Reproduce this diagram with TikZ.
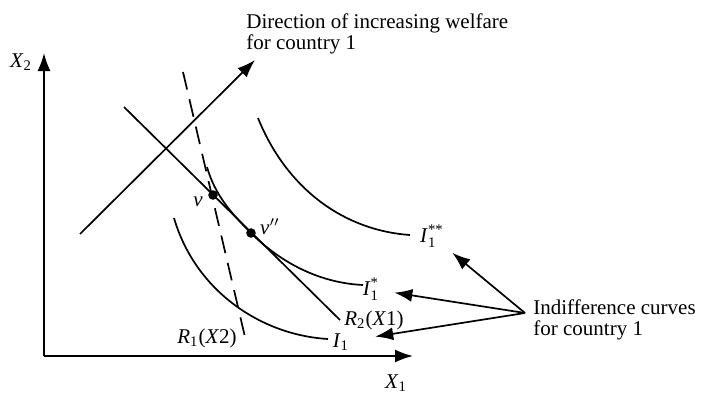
\documentclass[tikz,border=0pt]{standalone}
\usepackage{amsmath}
\usepackage{fontspec}
\setmainfont{Liberation Serif}
\usetikzlibrary{arrows.meta}

\begin{document}
\begin{tikzpicture}[
			x=0.5pt, y=0.5pt,
			curve/.style={line width=0.85pt},
			lbl/.style={
				inner sep=1pt,
				font=\fontsize{10.5}{10.8}\selectfont
			},
			dot/.style={circle, fill=black, inner sep=0pt, minimum size=4.8pt},
			>={Latex[length=9pt,width=6.5pt]}
			]
			\useasboundingbox (0,0) rectangle (701,392);
			
			% axes
			\coordinate (O) at (44,36);
			\coordinate (ytip) at (44,339);
			\coordinate (xtip) at (413,36);
			\draw[curve, ->] (O) -- (ytip);
			\draw[curve, ->] (O) -- (xtip);
			\node[lbl] (X2) at (21,330) {\textit{X}$_{\text{2}}$};
			\node[lbl] (X1) at (396,9) {\textit{X}$_{\text{1}}$};
			
			% direction of welfare
			\coordinate (dirS) at (80,158);
			\coordinate (dirE) at (255,332);
			\draw[curve, ->] (dirS) -- (dirE);
			\node[lbl, anchor=west, align=left] (dir) at (244,358) 
			{Direction of increasing welfare\\for country 1};
			
			% reaction lines
			\coordinate (R2top) at (124,285);
			\coordinate (R2end) at (340,72);
			\coordinate (R1top) at (183,320);
			\coordinate (R1end) at (245,55);
			\draw[curve] (R2top) -- (R2end);
			\draw[curve, dash pattern=on 9pt off 5pt] (R1top) -- (R1end);
			\node[lbl] (R2) at (374,72) {\textit{R}$_{\text{2}}$(\textit{X}1)};
			\node[lbl] (R1) at (207,54) {\textit{R}$_{\text{1}}$(\textit{X}2)};
			
			% indifference curves
			\draw[curve] (174,174) .. controls (195,102) and (260,57) .. (328,53);
			\draw[curve] (207,225) .. controls (215,197) and (231,179) .. (251,159)
				.. controls (281,129) and (320,109) .. (363,107);
			\draw[curve] (258,274) .. controls (285,207) and (340,162) .. (410,157);
			\node[lbl] (I1) at (341,50) {\textit{I}$_{\text{1}}$};
			\node[lbl] (I1s) at (371,103) {\textit{I}$_{\text{1}}^{\text{*}}$};
			\node[lbl] (I1ss) at (432,156) {\textit{I}$_{\text{1}}^{\text{**}}$};
			
			% equilibrium points
			\node[dot] (v) at (213,197) {};
			\node[dot] (vpp) at (251,159) {};
			\node[lbl] (vlbl) at (198,190) {\textit{v}};
			\node[lbl] (vpplbl) at (270,165) {\textit{v}$''$};
			
			% pointer to the curves
			\coordinate (src) at (525,79);
			\node[lbl, anchor=west, align=left] (ic) at (531,72) 
			{Indifference curves\\for country 1};
			\draw[curve, ->, shorten >=4pt] (src) -- (I1ss);
			\draw[curve, ->, shorten >=6.5pt] (src) -- (I1s);
			\draw[curve, ->, shorten >=12pt] (src) -- (I1);
			
		\end{tikzpicture}
\end{document}
